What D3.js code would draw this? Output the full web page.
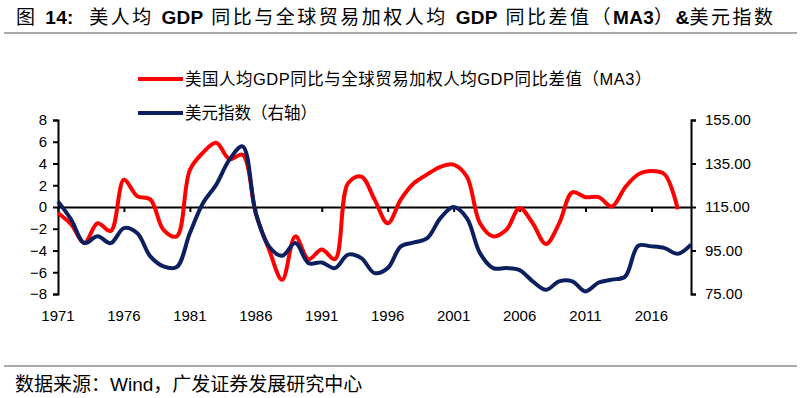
<!DOCTYPE html>
<html lang="zh">
<head>
<meta charset="utf-8">
<title>美人均GDP同比差值与美元指数</title>
<script src="https://cdn.jsdelivr.net/npm/d3@7"></script>
<style>
    body { margin: 0; background: #fff; }
    text { font-family: "Liberation Sans", Arial, "Noto Sans CJK SC", sans-serif; fill: #000; }
</style>
</head>
<body>
<div id="chart"></div>
<script>
    // data
    const years = d3.range(1971, 2020);
    const gdpDiff = [
        -0.55, -1.6, -3.3, -1.5, -2.2, 2.5, 1.0, 0.7, -2.1, -2.7,
        3.4, 5.0, 5.9, 4.4, 4.8, -0.6, -3.9, -6.7, -2.7, -4.8,
        -3.9, -4.8, 2.2, 2.8, 0.7, -1.5, 0.7, 2.2, 3.0, 3.7,
        3.9, 2.8, -1.5, -2.7, -2.1, -0.1, -1.5, -3.4, -1.5, 1.35,
        0.9, 0.9, 0.05, 1.8, 3.0, 3.3, 3.0, -0.2
    ];   // 1971-2018
    const dollarIdx = [
        117.6, 109.2, 98.4, 101.5, 98.4, 105.3, 103.0, 92.3, 87.7, 87.4,
        103.0, 116.8, 125.3, 136.8, 142.9, 112.2, 96.9, 92.6, 98.4, 89.2,
        89.5, 86.9, 93.1, 91.5, 84.6, 86.9, 96.9, 98.7, 100.7, 109.9,
        115.0, 109.9, 93.8, 86.9, 86.9, 86.0, 80.8, 76.9, 80.8, 80.8,
        76.2, 80.3, 81.6, 83.0, 97.2, 96.9, 96.1, 93.5, 97.7
    ];   // 1971-2019
    const xTicks = [1971, 1976, 1981, 1986, 1991, 1996, 2001, 2006, 2011, 2016];
    const leftTicks = [8, 6, 4, 2, 0, -2, -4, -6, -8];
    const rightTicks = [155, 135, 115, 95, 75];

    const W = 800, H = 398;
    const svg = d3.select("#chart").append("svg")
        .attr("width", W).attr("height", H);

    // title: latin parts bold, chinese parts regular and spaced
    const titleParts = [
        ["图 ", false], ["14:", true], ["  美人均 ", false], ["GDP", true],
        [" 同比与全球贸易加权人均 ", false], ["GDP", true], [" 同比差值（", false],
        ["MA3", true], ["）", false], ["&", true], ["美元指数", false]
    ];

    svg.append("text")
        .attr("x", 16).attr("y", 24)
        .style("font-size", "19px")
        .style("white-space", "pre")
        .selectAll("tspan")
        .data(titleParts)
        .enter()
        .append("tspan")
            .style("font-weight", d => d[1] ? "bold" : "normal")
            .style("letter-spacing", d => d[1] ? "0.3px" : "2.5px")
            .text(d => d[0]);

    svg.append("line")
        .attr("x1", 4).attr("x2", 797).attr("y1", 33).attr("y2", 33)
        .attr("stroke", "#555").attr("stroke-width", 1);

    svg.append("line")
        .attr("x1", 4).attr("x2", 797).attr("y1", 366).attr("y2", 366)
        .attr("stroke", "#555").attr("stroke-width", 1);

    svg.append("text")
        .attr("x", 15).attr("y", 391)
        .style("font-size", "19px")
        .text("数据来源：Wind，广发证券发展研究中心");

    // scales
    const x = d3.scaleLinear().domain([1971, 2019]).range([58, 691]);
    const yL = d3.scaleLinear().domain([-8, 8]).range([294, 120]);
    const yR = d3.scaleLinear().domain([75, 155]).range([294, 120]);

    // left axis
    svg.append("g")
        .attr("transform", "translate(58,0)")
        .call(d3.axisLeft(yL).tickValues(leftTicks).tickSize(5).tickPadding(6))
        .call(g => g.select(".domain").attr("stroke-width", 2))
        .call(g => g.selectAll(".tick line").attr("stroke-width", 2))
        .call(g => g.selectAll("text").style("font-size", "15px").attr("font-family", null));

    // right axis
    svg.append("g")
        .attr("transform", "translate(691,0)")
        .call(d3.axisRight(yR).tickValues(rightTicks).tickFormat(d3.format(".2f")).tickSize(5).tickPadding(9))
        .call(g => g.select(".domain").attr("stroke-width", 2))
        .call(g => g.selectAll(".tick line").attr("stroke-width", 2))
        .call(g => g.selectAll("text").style("font-size", "15px").attr("font-family", null));

    // x axis on the zero line
    svg.append("g")
        .attr("transform", "translate(0," + yL(0) + ")")
        .call(d3.axisBottom(x).tickValues(xTicks).tickFormat(d3.format("d")).tickSize(5).tickSizeOuter(0))
        .call(g => g.select(".domain").attr("stroke-width", 2))
        .call(g => g.selectAll(".tick line").attr("stroke-width", 2))
        .call(g => g.selectAll("text").remove());

    svg.append("g")
        .selectAll("text")
        .data(xTicks)
        .enter()
        .append("text")
            .attr("x", d => x(d))
            .attr("y", 321)
            .attr("text-anchor", "middle")
            .style("font-size", "15px")
            .text(d => d);

    // lines
    const lineL = d3.line()
        .x((d, i) => x(years[i]))
        .y(d => yL(d))
        .curve(d3.curveCatmullRom.alpha(0.5));

    const lineR = d3.line()
        .x((d, i) => x(years[i]))
        .y(d => yR(d))
        .curve(d3.curveCatmullRom.alpha(0.5));

    svg.append("path")
        .datum(gdpDiff)
        .attr("d", lineL)
        .attr("fill", "none")
        .attr("stroke", "#ff0000")
        .attr("stroke-width", 4)
        .attr("stroke-linejoin", "round");

    svg.append("path")
        .datum(dollarIdx)
        .attr("d", lineR)
        .attr("fill", "none")
        .attr("stroke", "#0c1f5e")
        .attr("stroke-width", 4)
        .attr("stroke-linejoin", "round");

    // legend
    const legendItems = [
        {label: "美国人均GDP同比与全球贸易加权人均GDP同比差值（MA3）", color: "#ff0000"},
        {label: "美元指数（右轴）", color: "#0c1f5e"}
    ];

    const legend = svg.append("g")
        .selectAll("g")
        .data(legendItems)
        .enter()
        .append("g")
        .attr("transform", (d, i) => `translate(138, ${79 + i * 34})`);

    legend.append("line")
        .attr("x1", 0).attr("x2", 45)
        .attr("stroke", d => d.color)
        .attr("stroke-width", 4);

    legend.append("text")
        .attr("x", 47)
        .attr("dy", "0.35em")
        .style("font-size", "16.5px")
        .style("letter-spacing", (d, i) => i === 0 ? "0.5px" : "0px")
        .text(d => d.label);
</script>
</body>
</html>
